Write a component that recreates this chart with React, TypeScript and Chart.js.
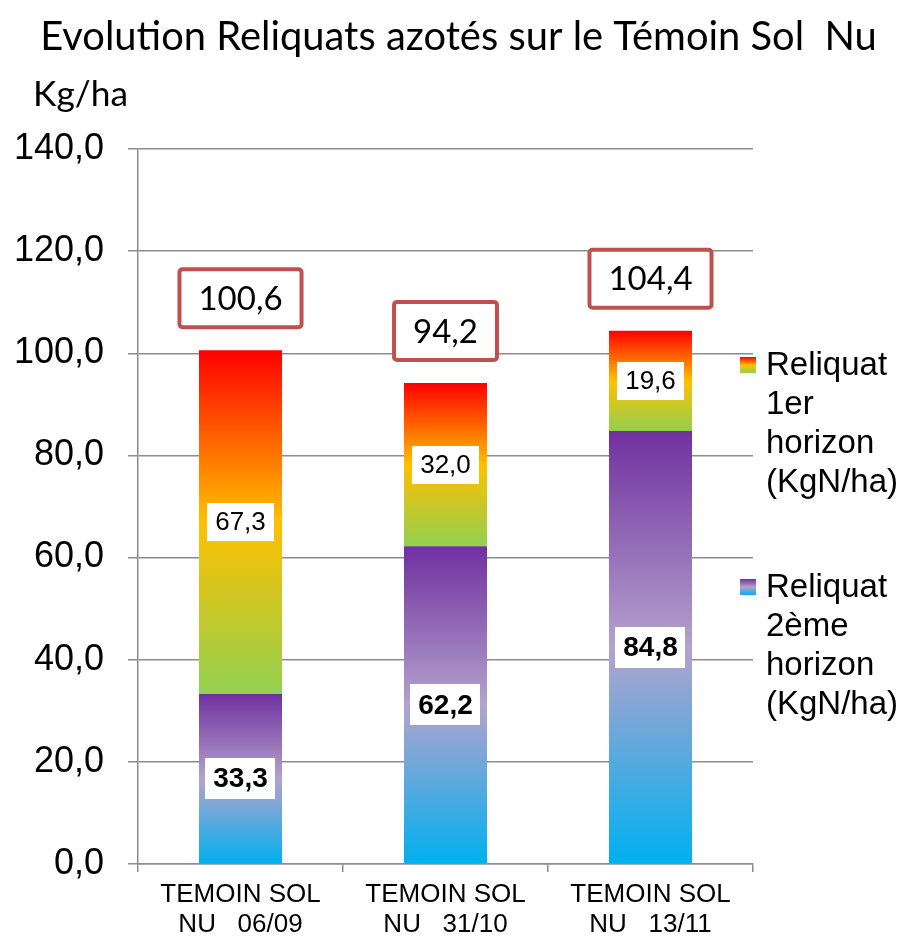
import React, { useEffect, useRef } from 'react';
import { Chart, registerables } from 'chart.js';

Chart.register(...registerables);

const title = 'Evolution Reliquats azotés sur le Témoin Sol  Nu';
const yUnit = 'Kg/ha';
const categories = [
  ['TEMOIN SOL', 'NU   06/09'],
  ['TEMOIN SOL', 'NU   31/10'],
  ['TEMOIN SOL', 'NU   13/11'],
];
const horizon2 = [33.3, 62.2, 84.8];
const horizon1 = [67.3, 32.0, 19.6];
const totals = [100.6, 94.2, 104.4];
const seriesNames = ['Reliquat 1er horizon (KgN/ha)', 'Reliquat 2ème horizon (KgN/ha)'];
const legendLines = [
  ['Reliquat', '1er', 'horizon', '(KgN/ha)'],
  ['Reliquat', '2ème', 'horizon', '(KgN/ha)'],
];
const yMin = 0;
const yMax = 140;
const yStep = 20;

const GRAD1: [number, string][] = [[0, '#92D050'], [0.5, '#FFC000'], [1, '#FF0000']];
const GRAD2: [number, string][] = [[0, '#00B0F0'], [0.5, '#B3A3CC'], [1, '#7030A0']];

const fmt = (v: number) => v.toFixed(1).replace('.', ',');
const GRID = '#8c8c8c';

function makeGrad(ctx: CanvasRenderingContext2D, yb: number, yt: number, stops: [number, string][]) {
  const g = ctx.createLinearGradient(0, yb, 0, yt);
  stops.forEach(([o, c]) => g.addColorStop(o, c));
  return g;
}

const labelPlugin = {
  id: 'customLabels',
  afterDatasetsDraw(chart: any) {
    const ctx: CanvasRenderingContext2D = chart.ctx;
    const m0 = chart.getDatasetMeta(0);
    const m1 = chart.getDatasetMeta(1);
    ctx.save();
    ctx.textAlign = 'center';
    ctx.textBaseline = 'middle';
    for (let i = 0; i < categories.length; i++) {
      const e0 = m0.data[i];
      const e1 = m1.data[i];
      const segs = [
        { el: e0, v: horizon2[i], font: 'bold 28px "Liberation Sans", Arial', h: 41, pad: 8 },
        { el: e1, v: horizon1[i], font: '26px "Liberation Sans", Arial', h: 38, pad: 8 },
      ];
      segs.forEach((s) => {
        const cy = (s.el.y + s.el.base) / 2;
        const cx = s.el.x;
        ctx.font = s.font;
        const t = fmt(s.v);
        const w = ctx.measureText(t).width + 2 * s.pad;
        ctx.fillStyle = '#ffffff';
        ctx.fillRect(Math.round(cx - w / 2), Math.round(cy - s.h / 2), Math.round(w), s.h);
        ctx.fillStyle = '#000000';
        ctx.fillText(t, cx, cy + 1);
      });
      ctx.font = '33px Lato, "Open Sans", sans-serif';
      const tt = fmt(totals[i]);
      const tw = ctx.measureText(tt).width + 38;
      const th = 58;
      const bottom = e1.y - 23;
      const bx = e1.x - tw / 2;
      const by = bottom - th;
      ctx.fillStyle = '#ffffff';
      ctx.beginPath();
      (ctx as any).roundRect(bx, by, tw, th, 3);
      ctx.fill();
      ctx.lineWidth = 4;
      ctx.strokeStyle = '#C0504D';
      ctx.stroke();
      ctx.fillStyle = '#000000';
      ctx.fillText(tt, e1.x, by + th / 2 + 1);
    }
    ctx.restore();
  },
  afterDraw(chart: any) {
    const ctx: CanvasRenderingContext2D = chart.ctx;
    ctx.save();
    ctx.font = '100px Lato, "Open Sans", sans-serif';
    const w = ctx.measureText(title).width;
    const size = (100 * 837) / w;
    ctx.font = `${size}px Lato, "Open Sans", sans-serif`;
    ctx.fillStyle = '#000000';
    ctx.textAlign = 'center';
    ctx.textBaseline = 'middle';
    ctx.fillText(title, 458.5, 37);
    ctx.font = '100px Lato, "Open Sans", sans-serif';
    const wu = ctx.measureText(yUnit).width;
    ctx.font = `${(100 * 95) / wu}px Lato, "Open Sans", sans-serif`;
    ctx.textAlign = 'left';
    ctx.fillText(yUnit, 33, 95);
    const grads = [GRAD1, GRAD2];
    const firstLine = [365, 587];
    ctx.font = '33px "Liberation Sans", Arial';
    legendLines.forEach((lines, k) => {
      const y0 = firstLine[k];
      ctx.fillStyle = makeGrad(ctx, y0 + 8, y0 - 8, grads[k]);
      ctx.fillRect(740, y0 - 8, 16, 16);
      ctx.fillStyle = '#000000';
      lines.forEach((ln, j) => ctx.fillText(ln, 766, y0 + j * 39 + 1));
    });
    ctx.restore();
  },
};

export default function App() {
  const ref = useRef<HTMLCanvasElement | null>(null);
  useEffect(() => {
    if (!ref.current) return;
    const chart = new Chart(ref.current, {
      type: 'bar',
      data: {
        labels: categories as any,
        datasets: [
          {
            label: seriesNames[1],
            data: horizon2,
            backgroundColor: (c: any) => {
              const ch = c.chart;
              const y = ch.scales?.y;
              if (c.type !== 'data' || !y || !ch.chartArea) return '#7030A0';
              const i = c.dataIndex;
              return makeGrad(ch.ctx, y.getPixelForValue(0), y.getPixelForValue(horizon2[i]), GRAD2);
            },
            borderWidth: 0,
            barPercentage: 0.405,
            categoryPercentage: 1,
          },
          {
            label: seriesNames[0],
            data: horizon1,
            backgroundColor: (c: any) => {
              const ch = c.chart;
              const y = ch.scales?.y;
              if (c.type !== 'data' || !y || !ch.chartArea) return '#FFC000';
              const i = c.dataIndex;
              return makeGrad(
                ch.ctx,
                y.getPixelForValue(horizon2[i]),
                y.getPixelForValue(horizon2[i] + horizon1[i]),
                GRAD1
              );
            },
            borderWidth: 0,
            barPercentage: 0.405,
            categoryPercentage: 1,
          },
        ],
      },
      options: {
        responsive: false,
        animation: false,
        devicePixelRatio: 1,
        layout: { padding: { top: 149, right: 153, left: 0, bottom: 0 } },
        plugins: { legend: { display: false }, tooltip: { enabled: false }, title: { display: false } },
        scales: {
          x: {
            stacked: true,
            grid: { display: true, drawOnChartArea: false, drawTicks: true, tickLength: 8, color: GRID, lineWidth: 1.5, offset: true },
            border: { display: true, color: GRID, width: 1.5 },
            ticks: {
              color: '#000000',
              font: { family: '"Liberation Sans", Arial', size: 26, lineHeight: 1.15 },
              padding: 8,
              maxRotation: 0,
              autoSkip: false,
            },
            afterFit: (s: any) => { s.height = 73; },
          },
          y: {
            stacked: true,
            min: yMin,
            max: yMax,
            grid: { color: GRID, lineWidth: 1.5, tickLength: 10, drawTicks: true },
            border: { display: true, color: GRID, width: 1.5 },
            ticks: {
              stepSize: yStep,
              color: '#000000',
              padding: 24,
              font: { family: '"Liberation Sans", Arial', size: 36 },
              callback: (v: any) => fmt(Number(v)),
            },
            afterFit: (s: any) => { s.width = 138; },
          },
        },
      },
      plugins: [labelPlugin],
    });
    return () => chart.destroy();
  }, []);
  return (
    <div style={{ position: 'fixed', left: 0, top: 0, width: 906, height: 937 }}>
      <canvas ref={ref} width={906} height={937} style={{ display: 'block' }} />
    </div>
  );
}
